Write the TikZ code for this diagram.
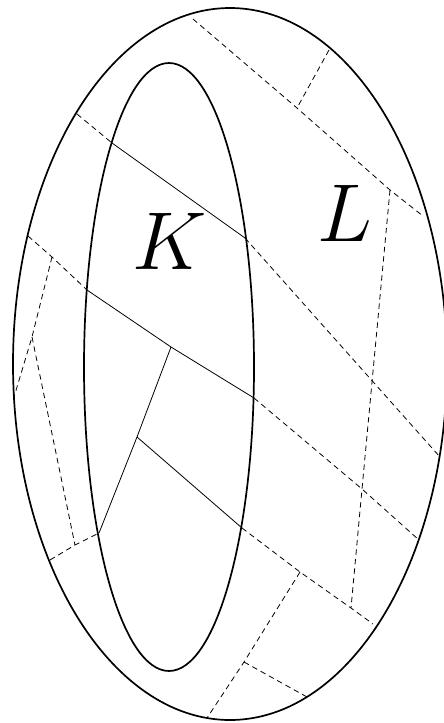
\documentclass[tikz,border=0pt]{standalone}
\begin{document}
\begin{tikzpicture}[x=1pt, y=-1pt,
		rim/.style={black, line width=1.7pt},
		seam/.style={black, line width=0.8pt},
		hid/.style={seam, dash pattern=on 5.5pt off 4pt},
		lbl/.style={inner sep=0pt, font=\Huge, scale=3.3}]
		\useasboundingbox (0,0) rectangle (444,723);
		\clip (0,0) rectangle (444,723);
		% the two regions
		\draw[rim] (230,364) ellipse [x radius=217pt, y radius=356pt];
		\draw[rim] (169,367) ellipse [x radius=85pt, y radius=304pt];
		\node[lbl] (K) at (170,241) {$K$};
		\node[lbl] (L) at (345,213) {$L$};
		% points on the outer curve
		\coordinate (o1) at (77,114);
		\coordinate (o2) at (440,457);
		\coordinate (o3) at (193,19);
		\coordinate (o4) at (423,216);
		\coordinate (o5) at (329,50);
		\coordinate (o6) at (28,236);
		\coordinate (o7) at (419,540);
		\coordinate (o8) at (14,397);
		\coordinate (o9) at (50,560);
		\coordinate (o10) at (373,624);
		\coordinate (o11) at (207,718);
		\coordinate (o12) at (307,697);
		% points on the inner curve
		\coordinate (k1) at (112,143);
		\coordinate (k2) at (245,238);
		\coordinate (k3) at (87,290);
		\coordinate (k4) at (254,398);
		\coordinate (k5) at (99,533);
		\coordinate (k6) at (242,528);
		% vertices
		\coordinate (v1) at (297,108);
		\coordinate (v2) at (390,190);
		\coordinate (v4) at (52,257);
		\coordinate (v5) at (171,347);
		\coordinate (v6) at (362,489);
		\coordinate (v7) at (32,337);
		\coordinate (v8) at (75,545);
		\coordinate (v9) at (137,437);
		\coordinate (v10) at (300,572);
		\coordinate (v11) at (351,608);
		\coordinate (v12) at (244,662);
		% inside K
		\draw[seam] (k1) -- (k2);
		\draw[seam] (k3) -- (v5) -- (k4);
		\draw[seam] (v5) -- (v9) -- (k5);
		\draw[seam] (v9) -- (k6);
		% inside L
		\draw[hid] (o1) -- (k1);
		\draw[hid] (k2) -- (o2);
		\draw[hid] (o3) -- (v1) -- (v2) -- (o4);
		\draw[hid] (o5) -- (v1);
		\draw[hid] (v2) -- (v6) -- (v11);
		\draw[hid] (o6) -- (v4) -- (k3);
		\draw[hid] (k4) -- (v6) -- (o7);
		\draw[hid] (v4) -- (v7) -- (o8);
		\draw[hid] (v7) -- (v8);
		\draw[hid] (o9) -- (v8) -- (k5);
		\draw[hid] (k6) -- (v10) -- (v11) -- (o10);
		\draw[hid] (v10) -- (v12) -- (o11);
		\draw[hid] (v12) -- (o12);
\end{tikzpicture}
\end{document}
